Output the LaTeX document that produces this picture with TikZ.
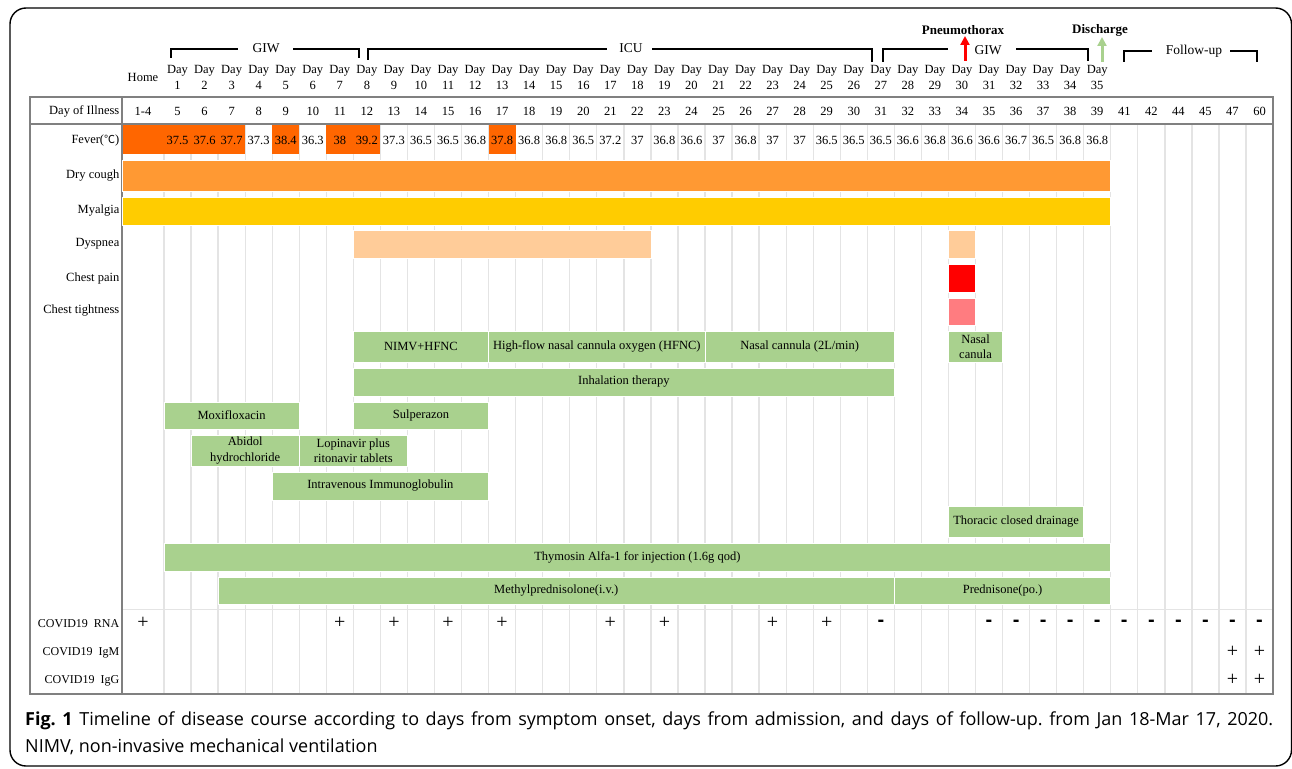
\documentclass[tikz,border=0pt]{standalone}
\usepackage{fontspec}
\setmainfont{Liberation Serif}
\newfontfamily\capfont{Open Sans}
\newfontfamily\cjkfont{Noto Sans CJK SC}
\newfontfamily\minusfont{Liberation Sans}
\usetikzlibrary{arrows.meta}
\frenchspacing
\definecolor{fevor}{HTML}{FF6600}
\definecolor{coughc}{HTML}{FF9933}
\definecolor{myalc}{HTML}{FFCC00}
\definecolor{dyspc}{HTML}{FFCC99}
\definecolor{painc}{HTML}{FF0000}
\definecolor{tightc}{HTML}{FF7C80}
\definecolor{greenc}{HTML}{A9D18E}
\definecolor{gridc}{HTML}{E4E4E4}
\definecolor{tabc}{HTML}{808080}
\newcommand\tlbox[7]{\node[tlb, fill=#6, minimum width={((#3)-(#2))*27.05pt}, minimum height={((#5)-(#4))*1pt}] (#1) at ({164+27.05*((#2)+(#3))/2},{((#4)+(#5))/2}) {#7};}
\tikzset{
  every node/.style={inner sep=0pt, font=\fontsize{12.5}{15.5}\selectfont},
  tlb/.style={draw=white, line width=0.8pt, align=center},
  lbl/.style={anchor=east},
  brk/.style={line width=1.4pt, black},
  brklbl/.style={font=\fontsize{13.5}{16}\selectfont},
  gridline/.style={gridc, line width=1.3pt},
  tabline/.style={tabc, line width=1.2pt},
  plus/.style={font=\fontsize{20}{20}\selectfont},
  minus/.style={font=\minusfont\bfseries\fontsize{20}{20}\selectfont},
  evt/.style={font=\bfseries\fontsize{13}{16}\selectfont},
  uparrow/.style={line width=3pt, -{Triangle[width=9pt,length=9pt]}},
  caption/.style={anchor=base west, font=\capfont\fontsize{18}{21}\selectfont\frenchspacing}
}
\begin{document}
\begin{tikzpicture}[x=1pt,y=-1pt]
\useasboundingbox (0,0) rectangle (1292,768);
\fill[white] (0,0) rectangle (1292,768);
% outer frame
\draw[line width=1.4pt, rounded corners=16pt] (10,8) rectangle (1291.5,766);

% grid lines
\foreach \k in {0,...,40} \draw[gridline] ({164+27.05*\k},125) -- ({164+27.05*\k},694);
\draw[gridline] (122,609.5) -- (1273,609.5);

% fever cells
\fill[fevor] (122,125) rectangle ({164+27.05*3},154);
\fill[fevor] ({164+27.05*4},125) rectangle ({164+27.05*5},154);
\fill[fevor] ({164+27.05*6},125) rectangle ({164+27.05*8},154);
\fill[fevor] ({164+27.05*12},125) rectangle ({164+27.05*13},154);

% table frame
\draw[tabline] (30,97) rectangle (1273,694);
\draw[tabline] (122,97) -- (122,694);
\draw[tabline] (30,124) -- (1273,124);

% header brackets
\node[brklbl] (giw1) at (266,48) {GIW};
\draw[brk] (171,58) -- (171,49) -- (238,49);
\draw[brk] (293,49) -- (359,49) -- (359,58);
\node[brklbl] (icu) at (631,48) {ICU};
\draw[brk] (368,60) -- (368,49) -- (607,49);
\draw[brk] (652,49) -- (872,49) -- (872,62);
\node[brklbl] (giw2) at (988,50) {GIW};
\draw[brk] (883,62) -- (883,49) -- (948,49);
\draw[brk] (1016,49) -- (1088,49) -- (1088,61);
\node[brklbl] (fu) at (1194,51) {Follow-up};
\draw[brk] (1124,62) -- (1124,51) -- (1152,51);
\draw[brk] (1230,51) -- (1257,51) -- (1257,62);

% events
\node[evt] (pneu) at (963,30) {Pneumothorax};
\coordinate (pneuA) at (965,61);
\draw[uparrow, red] (pneuA) -- (965,36);
\node[evt] (disc) at (1100,30) {Discharge};
\coordinate (discA) at (1102,62);
\draw[uparrow, greenc] (discA) -- (1102,37);

% header day labels
\node (home) at (143,77) {Home};
\foreach \i in {1,...,35}
  \node[align=center, font=\fontsize{12.5}{16}\selectfont] (hd\i) at ({164+27.05*(\i-1)+13.525},77) {Day\\\i};

% left labels
\node[lbl] (lDoI) at (119.5,111) {Day of Illness};
\node[lbl] (lFev) at (119.5,140) {Fever({\cjkfont\fontsize{11}{13}\selectfont ℃})};
\node[lbl] (lCough) at (119.5,176) {Dry cough};
\node[lbl] (lMyal) at (119.5,211) {Myalgia};
\node[lbl] (lDysp) at (119.5,244) {Dyspnea};
\node[lbl] (lPain) at (119.5,278) {Chest pain};
\node[lbl] (lTight) at (119.5,311) {Chest tightness};
\node[lbl, font=\fontsize{12}{14}\selectfont] (lRNA) at (119.5,624) {COVID19~~RNA};
\node[lbl, font=\fontsize{12}{14}\selectfont] (lIgM) at (119.5,653) {COVID19~~IgM};
\node[lbl, font=\fontsize{12}{14}\selectfont] (lIgG) at (119.5,681) {COVID19~~IgG};

% day of illness
\node (doiH) at (143,111) {1-4};
\foreach \v [count=\i from 0] in {5,6,...,39,41,42,44,45,47,60}
  \node (doi\i) at ({164+27.05*\i+13.525},111) {\v};

% fever values
\foreach \v [count=\i from 0] in {37.5,37.6,37.7,37.3,38.4,36.3,38,39.2,37.3,36.5,36.5,36.8,37.8,36.8,36.8,36.5,37.2,37,36.8,36.6,37,36.8,37,37,36.5,36.5,36.5,36.6,36.8,36.6,36.6,36.7,36.5,36.8,36.8}
  \node (fev\i) at ({164+27.05*\i+13.525},140) {\v};

% symptom bars
\tlbox{cough}{-1.5527}{35}{160}{191}{coughc}{}
\tlbox{myal}{-1.5527}{35}{197}{225}{myalc}{}
\tlbox{dysp1}{7}{18}{230}{258}{dyspc}{}
\tlbox{dysp2}{29}{30}{230}{258}{dyspc}{}
\tlbox{pain}{29}{30}{264}{292}{painc}{}
\tlbox{tight}{29}{30}{298}{325}{tightc}{}

% treatment bars
\tlbox{nimv}{7}{12}{331}{362}{greenc}{NIMV+HFNC}
\tlbox{hfnc}{12}{20}{331}{362}{greenc}{High-flow nasal cannula oxygen (HFNC)}
\tlbox{nasal}{20}{27}{331}{362}{greenc}{Nasal cannula (2L/min)}
\tlbox{nasal2}{29}{31}{331}{362}{greenc}{Nasal\\canula}
\tlbox{inhal}{7}{27}{368}{396}{greenc}{Inhalation therapy}
\tlbox{moxi}{0}{5}{402}{429}{greenc}{Moxifloxacin}
\tlbox{sulp}{7}{12}{402}{429}{greenc}{Sulperazon}
\tlbox{abid}{1}{5}{435}{466}{greenc}{Abidol\\hydrochloride}
\tlbox{lopi}{5}{9}{435}{466}{greenc}{Lopinavir plus\\ritonavir tablets}
\tlbox{ivig}{4}{12}{472}{500}{greenc}{Intravenous Immunoglobulin}
\tlbox{drain}{29}{34}{506}{537}{greenc}{Thoracic closed drainage}
\tlbox{thym}{0}{35}{543}{571}{greenc}{Thymosin Alfa-1 for injection (1.6g qod)}
\tlbox{meth}{2}{27}{577}{604}{greenc}{Methylprednisolone(i.v.)}
\tlbox{pred}{27}{35}{577}{604}{greenc}{Prednisone(po.)}

% COVID19 results
\node[plus] (rnaH) at (143,623) {+};
\foreach \k in {6,8,10,12,16,18,22,24}
  \node[plus] (rnaP\k) at ({164+27.05*\k+13.525},623) {+};
\foreach \k in {26,30,31,...,40}
  \node[minus] (rnaM\k) at ({164+27.05*\k+13.525},623) {-};
\foreach \k in {39,40} {
  \node[plus] (igm\k) at ({164+27.05*\k+13.525},652) {+};
  \node[plus] (igg\k) at ({164+27.05*\k+13.525},680) {+};
}

% caption
\node[caption] (cap1) at (25,725.5) {\makebox[1248pt][s]{\textbf{Fig. 1} Timeline of disease course according to days from symptom onset, days from admission, and days of follow-up. from Jan 18-Mar 17, 2020.}};
\node[caption] (cap2) at (25,752) {NIMV, non-invasive mechanical ventilation};
\end{tikzpicture}
\end{document}
